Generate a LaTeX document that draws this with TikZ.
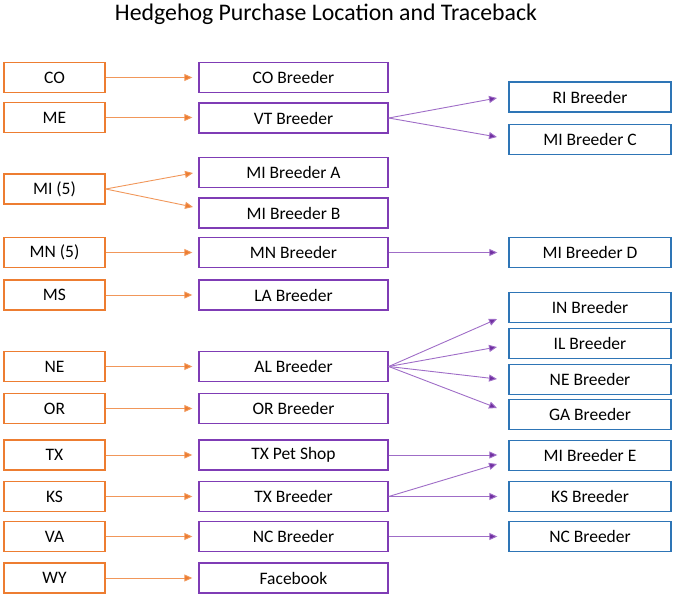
\documentclass[tikz,border=0pt]{standalone}
\usepackage{fontspec}
\setmainfont{Carlito}
\usetikzlibrary{arrows.meta}
\definecolor{orng}{HTML}{ED7D31}
\definecolor{prpl}{HTML}{7F3CB5}
\definecolor{prplA}{HTML}{7030A0}
\definecolor{blu}{HTML}{2E75B6}
\tikzset{
  lbl/.style={font=\fontsize{17.5}{19}\selectfont},
  obox/.style={lbl, draw=orng, line width=1.4pt, minimum width=101pt, minimum height=30pt, inner sep=0pt},
  pbox/.style={lbl, draw=prpl, line width=1.4pt, minimum width=189pt, minimum height=30pt, inner sep=0pt},
  bbox/.style={lbl, draw=blu, line width=1.4pt, minimum width=162pt, minimum height=30pt, inner sep=0pt},
  oarr/.style={draw=orng!80, line width=0.9pt, -{Triangle[length=8pt,width=7pt,fill=orng]}},
  parr/.style={draw=prpl!75, line width=0.9pt, -{Triangle[length=8pt,width=7pt,fill=prplA]}},
}
\begin{document}
\begin{tikzpicture}[x=1pt,y=-1pt]
\useasboundingbox (0,0) rectangle (675,597);
\node[font=\fontsize{23.8}{26}\selectfont] (title) at (326,14) {Hedgehog Purchase Location and Traceback};
% orange
\node[obox] (CO) at (54.5,77.5) {CO};
\node[obox] (ME) at (54.5,117.5) {ME};
\node[obox] (MI) at (54.5,189) {MI (5)};
\node[obox] (MN) at (54.5,252.5) {MN (5)};
\node[obox] (MS) at (54.5,295) {MS};
\node[obox] (NE) at (54.5,366.5) {NE};
\node[obox] (OR) at (54.5,408.5) {OR};
\node[obox] (TX) at (54.5,455) {TX};
\node[obox] (KS) at (54.5,496.5) {KS};
\node[obox] (VA) at (54.5,536.5) {VA};
\node[obox] (WY) at (54.5,578) {WY};
% purple
\node[pbox] (COB) at (293.5,77.5) {CO Breeder};
\node[pbox] (VTB) at (293.5,118) {VT Breeder};
\node[pbox] (MIA) at (293.5,172.5) {MI Breeder A};
\node[pbox] (MIB) at (293.5,213) {MI Breeder B};
\node[pbox] (MNB) at (293.5,252.5) {MN Breeder};
\node[pbox] (LAB) at (293.5,295) {LA Breeder};
\node[pbox] (ALB) at (293.5,366.5) {AL Breeder};
\node[pbox] (ORB) at (293.5,408.5) {OR Breeder};
\node[pbox] (TXP) at (293.5,455) {TX Pet Shop};
\node[pbox] (TXB) at (293.5,496.5) {TX Breeder};
\node[pbox] (NCB) at (293.5,536.5) {NC Breeder};
\node[pbox] (FB) at (293.5,578) {Facebook};
% blue
\node[bbox] (RIB) at (590,97) {RI Breeder};
\node[bbox] (MIC) at (590,139.5) {MI Breeder C};
\node[bbox] (MID) at (590,252.5) {MI Breeder D};
\node[bbox] (INB) at (590,307.5) {IN Breeder};
\node[bbox] (ILB) at (590,343.5) {IL Breeder};
\node[bbox] (NEB) at (590,379.5) {NE Breeder};
\node[bbox] (GAB) at (590,414.5) {GA Breeder};
\node[bbox] (MIE) at (590,455.5) {MI Breeder E};
\node[bbox] (KSB) at (590,496.5) {KS Breeder};
\node[bbox] (NCC) at (590,536.5) {NC Breeder};
% free ends
\coordinate (tMIA) at (193,173);
\coordinate (tMIB) at (193,207);
\coordinate (tRI) at (497,98);
\coordinate (tMIC) at (497,137);
\coordinate (tIN) at (497,319);
\coordinate (tIL) at (497,347);
\coordinate (tNE) at (497,379);
\coordinate (tGA) at (497,408);
\coordinate (tMIE2) at (497,464);
% orange arrows
\draw[oarr] (CO.east) -- ([xshift=-6pt]COB.west);
\draw[oarr] (ME.east) -- ([xshift=-6pt]VTB.west |- ME.east);
\draw[oarr] (MI.east) -- (tMIA);
\draw[oarr] (MI.east) -- (tMIB);
\draw[oarr] (MN.east) -- ([xshift=-6pt]MNB.west);
\draw[oarr] (MS.east) -- ([xshift=-6pt]LAB.west);
\draw[oarr] (NE.east) -- ([xshift=-6pt]ALB.west);
\draw[oarr] (OR.east) -- ([xshift=-6pt]ORB.west);
\draw[oarr] (TX.east) -- ([xshift=-6pt]TXP.west);
\draw[oarr] (KS.east) -- ([xshift=-6pt]TXB.west);
\draw[oarr] (VA.east) -- ([xshift=-6pt]NCB.west);
\draw[oarr] (WY.east) -- ([xshift=-6pt]FB.west);
% purple arrows
\draw[parr] (VTB.east) -- (tRI);
\draw[parr] (VTB.east) -- (tMIC);
\draw[parr] (MNB.east) -- ([xshift=-11pt]MID.west);
\draw[parr] (ALB.east) -- (tIN);
\draw[parr] (ALB.east) -- (tIL);
\draw[parr] (ALB.east) -- (tNE);
\draw[parr] (ALB.east) -- (tGA);
\draw[parr] (TXP.east) -- ([xshift=-11pt]MIE.west |- TXP.east);
\draw[parr] (TXB.east) -- (tMIE2);
\draw[parr] (TXB.east) -- ([xshift=-11pt]KSB.west);
\draw[parr] (NCB.east) -- ([xshift=-11pt]NCC.west);
\end{tikzpicture}
\end{document}
